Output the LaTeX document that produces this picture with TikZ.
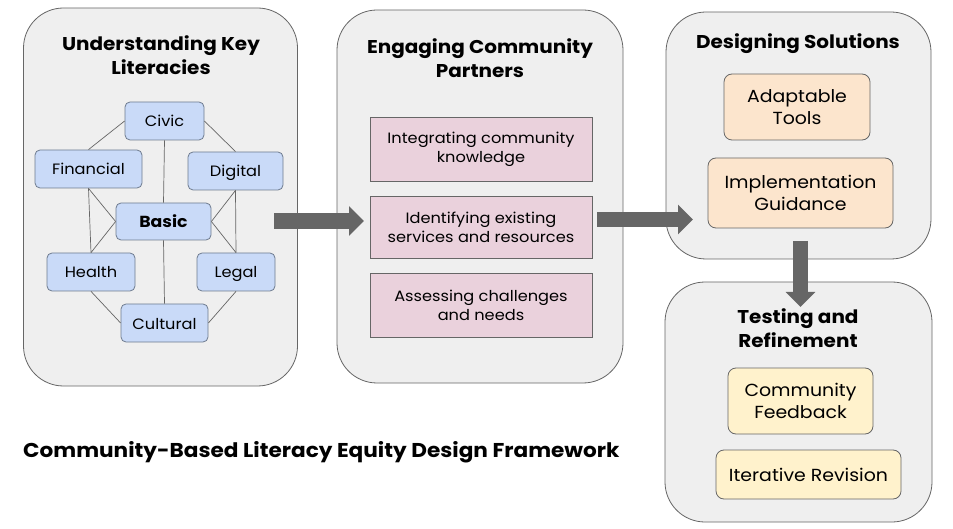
\documentclass[tikz,border=0pt]{standalone}
\usepackage{fontspec}
\setmainfont{Poppins}[FakeStretch=1.08]
\usetikzlibrary{arrows.meta}

\definecolor{panelfill}{HTML}{EFEFEF}
\definecolor{panelline}{HTML}{666666}
\definecolor{litblue}{HTML}{C9DAF8}
\definecolor{litline}{HTML}{6E7B8F}
\definecolor{partpink}{HTML}{EAD1DC}
\definecolor{solpeach}{HTML}{FCE5CD}
\definecolor{testyellow}{HTML}{FFF2CC}
\definecolor{flowgray}{HTML}{666666}

\tikzset{panel/.style={draw=panelline,fill=panelfill,rounded corners=40pt,line width=0.8pt,inner sep=0pt},
  paneltitle/.style={align=center,font=\fontsize{18.5}{23.5}\selectfont\bfseries,inner sep=0pt},
  lit/.style={draw=litline,fill=litblue,rounded corners=5pt,line width=0.8pt,inner sep=0pt,minimum height=38pt,text height=14pt,text depth=2pt,font=\fontsize{15}{18}\selectfont},
  link/.style={draw=panelline,line width=0.7pt},
  partbox/.style={draw=panelline,fill=partpink,line width=0.8pt,inner sep=0pt,minimum width=222pt,align=center,font=\fontsize{15}{19}\selectfont},
  solbox/.style={draw=panelline,fill=solpeach,rounded corners=8pt,line width=0.8pt,inner sep=0pt,align=center,font=\fontsize{17.5}{21.5}\selectfont},
  testbox/.style={draw=panelline,fill=testyellow,rounded corners=8pt,line width=0.8pt,inner sep=0pt,align=center,font=\fontsize{17.5}{21.5}\selectfont},
  flow/.style={draw=flowgray,line width=15.5pt,-{Triangle[length=15pt,width=29pt]}}}

\begin{document}
\begin{tikzpicture}[x=1pt,y=-1pt]
  \useasboundingbox (0,0) rectangle (953,529);
  \fill[white] (0,0) rectangle (953,529);

  \node[panel,minimum width=274pt,minimum height=378pt] (understand) at (160.5,197) {};
  \node[panel,minimum width=286pt,minimum height=373pt] (engage) at (480,196.5) {};
  \node[panel,minimum width=265pt,minimum height=247pt] (design) at (798.5,135.5) {};
  \node[panel,minimum width=267pt,minimum height=240pt] (testing) at (798.5,402) {};

  \node[paneltitle] (understandtitle) at (161,55) {Understanding Key\\Literacies};
  \node[paneltitle] (engagetitle) at (480,58) {Engaging Community\\Partners};
  \node[paneltitle] (designtitle) at (798,44) {Designing Solutions};
  \node[paneltitle] (testingtitle) at (798,328) {Testing and\\Refinement};

  \node[lit,minimum width=79pt] (civic) at (164.5,121) {Civic};
  \node[lit,minimum width=107pt] (financial) at (88.5,169) {Financial};
  \node[lit,minimum width=95pt] (digital) at (235.5,171) {Digital};
  \node[lit,minimum width=95pt,minimum height=37pt,font=\fontsize{16}{18}\selectfont\bfseries] (basic) at (163.5,221.5) {Basic};
  \node[lit,minimum width=88pt] (health) at (91,272) {Health};
  \node[lit,minimum width=78pt] (legal) at (236,272) {Legal};
  \node[lit,minimum width=87pt] (cultural) at (164.5,323) {Cultural};

  \draw[link] (civic.west) -- (financial.north);
  \draw[link] (civic.east) -- (digital.north);
  \draw[link] (civic.south) -- (basic.north);
  \draw[link] (financial.south) -- (basic.west);
  \draw[link] (financial.south) -- (health.north);
  \draw[link] (digital.south) -- (basic.east);
  \draw[link] (digital.south) -- (legal.north);
  \draw[link] (basic.west) -- (health.north);
  \draw[link] (basic.east) -- (legal.north);
  \draw[link] (basic.south) -- (cultural.north);
  \draw[link] (health.south) -- (cultural.west);
  \draw[link] (legal.south) -- (cultural.east);

  \node[partbox,minimum height=64pt] (integrating) at (481,149) {Integrating community\\knowledge};
  \node[partbox,minimum height=62pt] (identifying) at (481,227) {Identifying existing\\services and resources};
  \node[partbox,minimum height=64pt] (assessing) at (481,305) {Assessing challenges\\and needs};

  \node[solbox,minimum width=146pt,minimum height=66pt] (tools) at (797,107) {Adaptable\\Tools};
  \node[solbox,minimum width=185pt,minimum height=70pt] (guidance) at (800.5,193) {Implementation\\Guidance};

  \node[testbox,minimum width=145pt,minimum height=66pt] (feedback) at (800.5,401) {Community\\Feedback};
  \node[testbox,minimum width=185pt,minimum height=49pt] (revision) at (808.5,474.5) {Iterative Revision};

  \coordinate (flowonestart) at (274,221);
  \coordinate (flowoneend) at (364,221);
  \coordinate (flowtwostart) at (597,219.5);
  \coordinate (flowtwoend) at (693,219.5);
  \coordinate (flowthreestart) at (800.5,241);
  \coordinate (flowthreeend) at (800.5,307);
  \draw[flow] (flowonestart) -- (flowoneend);
  \draw[flow] (flowtwostart) -- (flowtwoend);
  \draw[flow] (flowthreestart) -- (flowthreeend);

  \node[anchor=west,inner sep=0pt,font=\fontsize{20}{23}\selectfont\bfseries] (frametitle) at (23,452) {Community-Based Literacy Equity Design Framework};
\end{tikzpicture}
\end{document}
